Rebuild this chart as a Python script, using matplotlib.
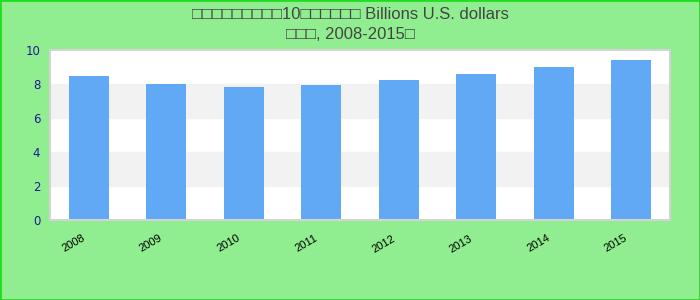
import matplotlib.pyplot as plt
import matplotlib.transforms as mtransforms
from matplotlib.patches import Rectangle

# data
years = ['2008', '2009', '2010', '2011', '2012', '2013', '2014', '2015']
values = [8.47, 8.0, 7.82, 7.94, 8.24, 8.59, 9.0, 9.41]
title_text = '□□□□□□□□□10□□□□□□ Billions U.S. dollars\n□□□, 2008-2015□'

fig = plt.figure(figsize=(7, 3), dpi=100, facecolor='#90ee90')
ax = fig.add_axes([50 / 700, 80 / 300, 620 / 700, 170 / 300])
ax.set_facecolor('white')

# alternating bands
for lo in [2, 6]:
    ax.axhspan(lo, lo + 2, color='#f2f2f2', zorder=0)

x = range(len(years))
ax.bar(x, values, width=0.52, color='#62a9f5', zorder=2)

ax.set_xlim(-0.5, len(years) - 0.5)
ax.set_ylim(0, 10)
ax.set_yticks([0, 2, 4, 6, 8, 10])
ax.tick_params(axis='y', length=0, pad=7, labelsize=8.5, labelcolor='#1c1c8f')
ax.set_xticks(list(x))
ax.set_xticklabels(years, rotation=30, ha='right', rotation_mode='anchor',
                   fontsize=8, family='Liberation Sans')
ax.tick_params(axis='x', length=0, pad=9.5)
shift = mtransforms.ScaledTranslation(-7 / 100, 0, fig.dpi_scale_trans)
for lab in ax.get_xticklabels():
    lab.set_transform(lab.get_transform() + shift)
for s in ax.spines.values():
    s.set_color('#d3d3d3')
    s.set_linewidth(1.5)

fig.text(0.5, 1 - 24.5 / 300, title_text, ha='center', va='center', fontsize=12,
         color='#444444', family=['Liberation Sans', 'DejaVu Sans'], linespacing=1.45)

fig.patches.append(Rectangle((0, 0), 1, 1, transform=fig.transFigure, fill=False,
                             edgecolor='#22dd22', linewidth=2))

fig.savefig('out.png', dpi=100, facecolor=fig.get_facecolor())
